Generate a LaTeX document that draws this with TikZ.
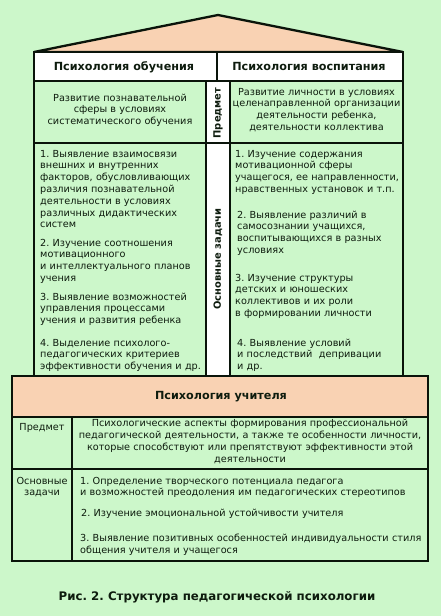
\documentclass[tikz,border=0pt]{standalone}
\usepackage{fontspec}
\setmainfont{DejaVu Sans}
\frenchspacing
\definecolor{bg}{HTML}{CCF7CA}
\definecolor{peach}{HTML}{F9D2B3}
\definecolor{ink}{HTML}{0E1C0E}
\definecolor{ln}{HTML}{0A140A}
\begin{document}
\begin{tikzpicture}[x=1pt,y=-1pt,
  frame/.style={draw=ln, line width=2.3pt},
  bodyl/.style={font=\fontsize{9.7}{11.8}\selectfont, text=ink, inner sep=0pt, align=left, anchor=base west, text width=185pt},
  bodyc/.style={font=\fontsize{9.7}{11.8}\selectfont, text=ink, inner sep=0pt, align=center, anchor=base, text width=200pt},
  head/.style={font=\bfseries\fontsize{11.2}{12}\selectfont, text=ink, inner sep=0pt, anchor=base},
  vert/.style={font=\bfseries\fontsize{9.9}{11}\selectfont, text=ink, inner sep=0pt, rotate=90, anchor=center}]
\useasboundingbox[fill=bg] (0,0) rectangle (441,616);
% roof
\filldraw[fill=peach, frame, line join=miter] (34,52) -- (218,15) -- (403,52) -- cycle;
% upper box
\fill[white] (34,52) rectangle (403,81);
\fill[white] (206,81) rectangle (230,376);
\draw[frame] (34,81) -- (403,81);
\draw[frame] (217,52) -- (217,81);
\draw[frame] (34,143) -- (403,143);
\draw[frame] (206,81) -- (206,376);
\draw[frame] (230,81) -- (230,376);
\draw[frame] (34,376) -- (34,52) -- (403,52) -- (403,376);
% lower box
\fill[peach] (12,376) rectangle (428,417);
\draw[frame] (12,417) -- (428,417);
\draw[frame] (12,469) -- (428,469);
\draw[frame] (72,417) -- (72,561);
\draw[frame] (12,376) rectangle (428,561);

% headers
\node[head] (h1) at (124,70) {Психология обучения};
\node[head] (h2) at (309,70) {Психология воспитания};
\node[vert] (v1) at (218,113) {Предмет};
\node[vert] (v2) at (218,259) {Основные задачи};

% row 1
\node[bodyc, text width=170pt] (p1) at (120,101) {Развитие познавательной\\сферы в условиях\\систематического обучения};
\node[bodyc, text width=172pt] (p2) at (316.5,95) {Развитие личности в условиях\\целенаправленной организации\\деятельности ребенка,\\деятельности коллектива};

% row 2 left
\node[bodyl] (l1) at (40,157) {1. Выявление взаимосвязи\\внешних и внутренних\\факторов, обусловливающих\\различия познавательной\\деятельности в условиях\\различных дидактических\\систем};
\node[bodyl] (l2) at (40,246) {2. Изучение соотношения\\мотивационного\\и интеллектуального планов\\учения};
\node[bodyl] (l3) at (40,300) {3. Выявление возможностей\\управления процессами\\учения и развития ребенка};
\node[bodyl] (l4) at (40,346) {4. Выделение психолого-\\педагогических критериев\\эффективности обучения и др.};

% row 2 right
\node[bodyl] (r1) at (235,157) {1. Изучение содержания\\мотивационной сферы\\учащегося, ее направленности,\\нравственных установок и т.п.};
\node[bodyl] (r2) at (237,218) {2. Выявление различий в\\самосознании учащихся,\\воспитывающихся в разных\\условиях};
\node[bodyl] (r3) at (235,281) {3. Изучение структуры\\детских и юношеских\\коллективов и их роли\\в формировании личности};
\node[bodyl] (r4) at (237,346) {4. Выявление условий\\и последствий\ \ депривации\\и др.};

% lower box
\node[head] (h3) at (221,399) {Психология учителя};
\node[bodyc, text width=350pt] (t1) at (42,430) {Предмет};
\node[bodyc, text width=350pt, font=\fontsize{9.7}{12.2}\selectfont] (t2) at (250,426) {Психологические аспекты формирования профессиональной\\педагогической деятельности, а также те особенности личности,\\которые способствуют или препятствуют эффективности этой\\деятельности};
\node[bodyc, text width=60pt] (t3) at (42,484) {Основные\\задачи};
\node[bodyl, text width=350pt] (u1) at (80,484) {1. Определение творческого потенциала педагога\\и возможностей преодоления им педагогических стереотипов};
\node[bodyl, text width=350pt] (u2) at (81,516) {2. Изучение эмоциональной устойчивости учителя};
\node[bodyl, text width=350pt, font=\fontsize{9.7}{12.6}\selectfont] (u3) at (80,541) {3. Выявление позитивных особенностей индивидуальности стиля\\общения учителя и учащегося};

% caption
\node[head, font=\bfseries\fontsize{11.8}{13}\selectfont] (cap) at (217,600) {Рис. 2. Структура педагогической психологии};
\end{tikzpicture}
\end{document}
